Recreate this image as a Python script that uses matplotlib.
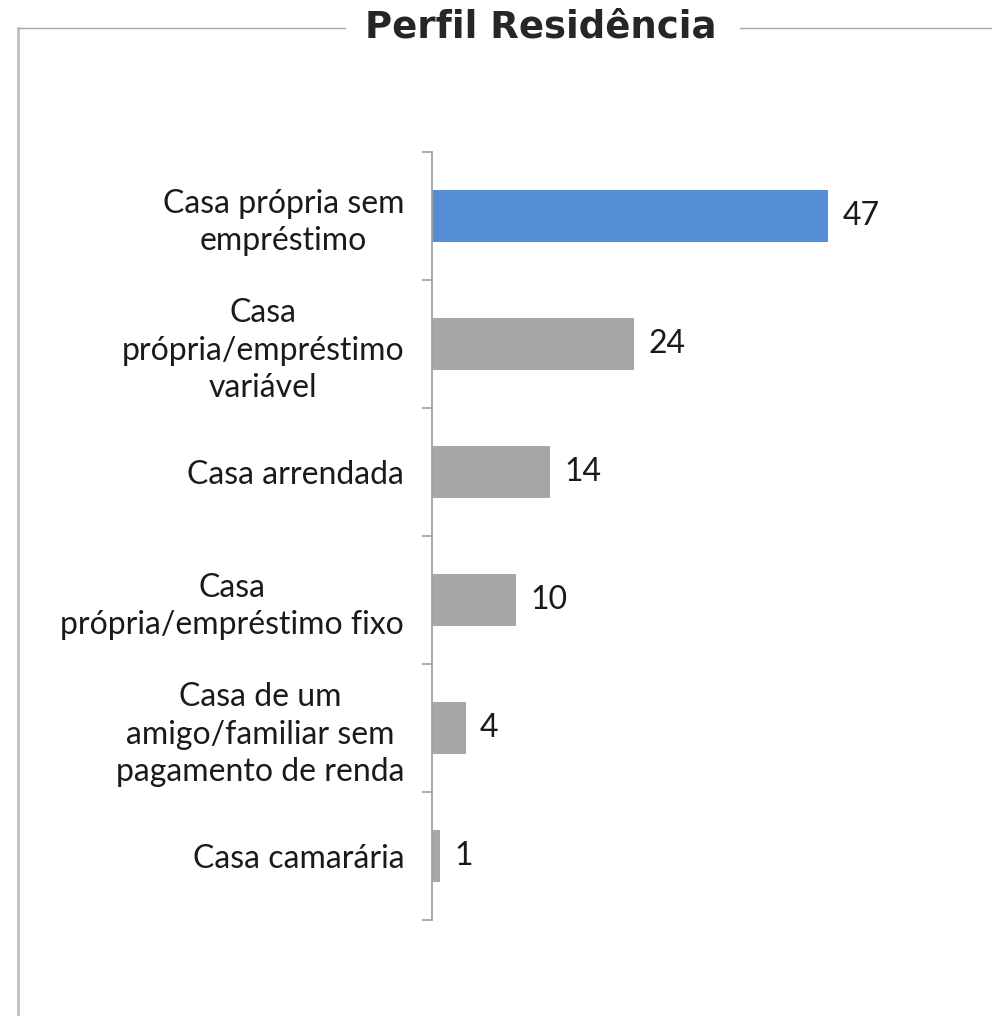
import matplotlib
matplotlib.use('Agg')
import matplotlib.pyplot as plt
import matplotlib.transforms as mtransforms
from matplotlib.lines import Line2D
from matplotlib.ticker import FixedLocator

# Perfil de residência dos inquiridos
categorias = [
    'Casa própria sem\nempréstimo',
    'Casa\nprópria/empréstimo\nvariável',
    'Casa arrendada',
    'Casa\nprópria/empréstimo fixo',
    'Casa de um\namigo/familiar sem\npagamento de renda',
    'Casa camarária',
]
valores = [47, 24, 14, 10, 4, 1]
cores = ['#558ED5', '#A6A6A6', '#A6A6A6', '#A6A6A6', '#A6A6A6', '#A6A6A6']

plt.rcParams['font.family'] = ['Lato', 'DejaVu Sans']

W, H = 992, 1016
fig = plt.figure(figsize=(W / 100, H / 100), dpi=100)

# eixo: x de 432 a 938 px, y de 152 a 920 px
ax = fig.add_axes([432 / W, 1 - 920 / H, 506 / W, 768 / H])
pos = list(range(len(valores)))
ax.barh(pos, valores, height=0.4, color=cores)
ax.set_xlim(0, 506 / 8.425)
ax.set_ylim(len(valores) - 0.5, -0.5)

for p, v in zip(pos, valores):
    ax.text(v + 1.7, p, str(v), va='center', ha='left', fontsize=23, color='#1a1a1a')

ax.set_yticks(pos)
ax.set_yticklabels(categorias, fontsize=23, color='#1a1a1a', linespacing=1.3)
subir = mtransforms.ScaledTranslation(0, 4 / 72, fig.dpi_scale_trans)
for t in ax.get_yticklabels():
    t.set_multialignment('center')
    t.set_transform(t.get_transform() + subir)
ax.tick_params(axis='y', which='major', length=0, pad=20)
ax.yaxis.set_minor_locator(FixedLocator([i - 0.5 for i in range(len(valores) + 1)]))
ax.tick_params(axis='y', which='minor', length=7, width=1.2, color='#a0a0a0')
ax.set_xticks([])
for s in ['top', 'right', 'bottom']:
    ax.spines[s].set_visible(False)
ax.spines['left'].set_color('#a0a0a0')
ax.spines['left'].set_linewidth(1.3)

# moldura com título
fig.add_artist(Line2D([18 / W, 18 / W], [0, 1 - 28 / H], transform=fig.transFigure,
                      color='#c0c0c0', lw=2))
fig.add_artist(Line2D([18 / W, 345 / W], [1 - 28 / H, 1 - 28 / H], transform=fig.transFigure,
                      color='#a6a6a6', lw=1))
fig.add_artist(Line2D([740 / W, 1], [1 - 28 / H, 1 - 28 / H], transform=fig.transFigure,
                      color='#a6a6a6', lw=1))
fig.text(541 / W, 1 - 27 / H, 'Perfil Residência', ha='center', va='center',
         fontsize=26.7, fontweight='bold', family='DejaVu Sans', color='#262626')

fig.savefig('out.png', dpi=100, facecolor='white')
